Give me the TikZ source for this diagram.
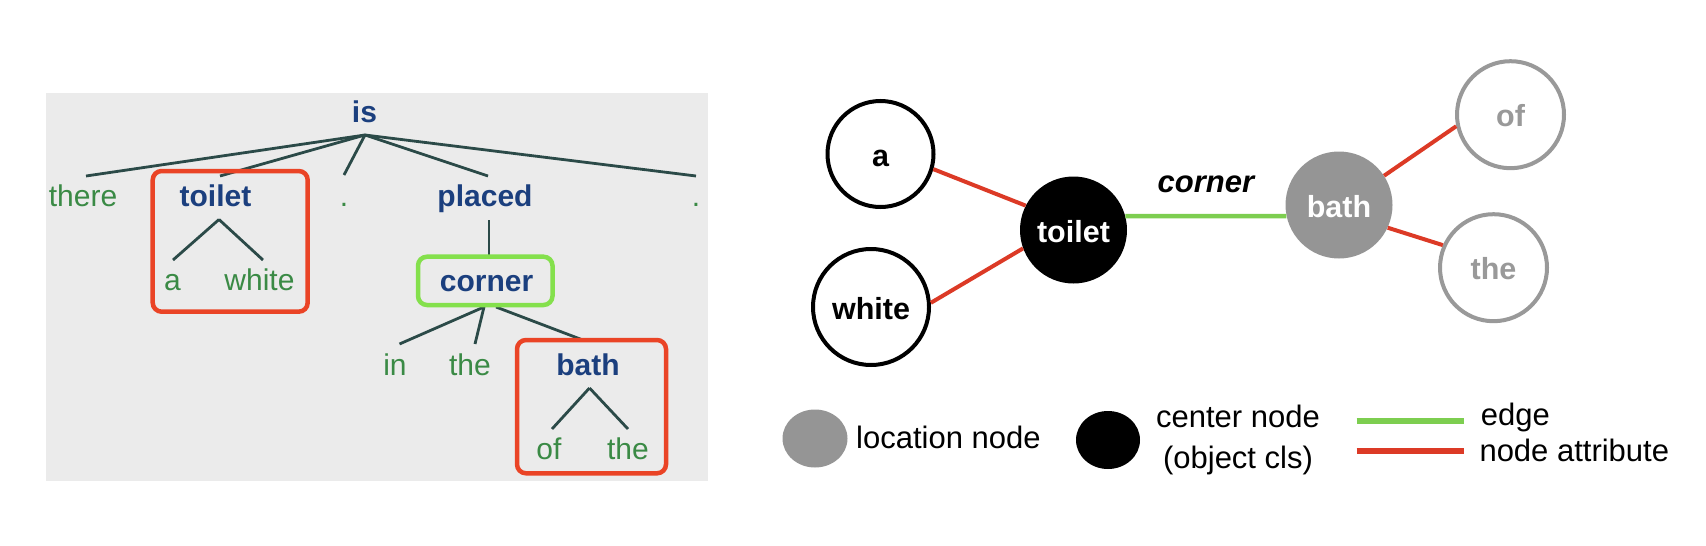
\documentclass[tikz,border=0pt]{standalone}
\usepackage{fontspec}
\setmainfont{Liberation Sans}
\usetikzlibrary{shapes.geometric}
\definecolor{panelbg}{HTML}{EBEBEB}
\definecolor{treeblue}{HTML}{1B3F7E}
\definecolor{treegreen}{HTML}{3A8A45}
\definecolor{tlinec}{HTML}{2B4A48}
\definecolor{boxred}{HTML}{EA4426}
\definecolor{boxgreen}{HTML}{84E04C}
\definecolor{edgered}{HTML}{DC3A26}
\definecolor{edgegreen}{HTML}{7DCE50}
\definecolor{locgray}{HTML}{959595}
\definecolor{attrgray}{HTML}{999999}
\begin{document}
\begin{tikzpicture}[x=1pt,y=-1pt,
  treeword/.style={anchor=base, inner sep=0pt, font=\fontsize{30}{36}\selectfont, text=treegreen},
  treehead/.style={anchor=base, inner sep=0pt, font=\fontsize{30}{36}\selectfont\bfseries, text=treeblue},
  treelink/.style={draw=tlinec, line width=2.8pt},
  redbox/.style={draw=boxred, line width=4.5pt, rounded corners=9pt},
  greenbox/.style={draw=boxgreen, line width=4.5pt, rounded corners=9pt},
  gnode/.style={circle, inner sep=0pt, text height=24pt, text depth=0pt, font=\fontsize{30.5}{36}\selectfont\bfseries},
  wordnode/.style={gnode, draw=black, fill=white, line width=4pt, text=black},
  centernode/.style={gnode, fill=black, text=white, minimum size=107pt},
  locnode/.style={gnode, fill=locgray, text=white, minimum size=107pt},
  attrnode/.style={gnode, draw=attrgray, fill=white, line width=4pt, text=attrgray, minimum size=107pt},
  attrlink/.style={draw=edgered, line width=4pt},
  edgelink/.style={draw=edgegreen, line width=4.5pt},
  legtext/.style={inner sep=0pt, font=\fontsize{31}{36}\selectfont, text=black},
  legline/.style={line width=5.5pt}
]
\useasboundingbox (0,0) rectangle (1706,546);

% ---------- left panel: dependency tree ----------
\fill[panelbg] (46,93) rectangle (708,481);

\node[treehead] (tis) at (364.5,122) {is};
\node[treeword] (tthere) at (83,206.5) {there};
\node[treehead] (ttoilet) at (215.5,206.5) {toilet};
\node[treeword] (tdotA) at (344,206.5) {.};
\node[treehead] (tplaced) at (485,206.5) {placed};
\node[treeword] (tdotB) at (696,206.5) {.};
\node[treeword] (ta) at (172.5,290.5) {a};
\node[treeword] (twhite) at (259.5,290.5) {white};
\node[treehead] (tcorner) at (486.5,291.5) {corner};
\node[treeword] (tin) at (395,375) {in};
\node[treeword] (tthe) at (470,375) {the};
\node[treehead] (tbath) at (588,375) {bath};
\node[treeword] (tof) at (549,459) {of};
\node[treeword] (tthetwo) at (628,459) {the};

\coordinate (cR) at (365,135);
\coordinate (cThere) at (86,176);
\coordinate (cToilet) at (220,176);
\coordinate (cDotA) at (344,175);
\coordinate (cPlaced) at (488,176);
\coordinate (cDotB) at (696,176);
\coordinate (cTA) at (219,219.5);
\coordinate (cA) at (173,260);
\coordinate (cW) at (263,260);
\coordinate (cPlA) at (489,220);
\coordinate (cPlB) at (489,257);
\coordinate (cCA) at (484,307);
\coordinate (cCB) at (496,307);
\coordinate (cIn) at (399.5,344);
\coordinate (cThe) at (475,344);
\coordinate (cBath) at (581.5,339.5);
\coordinate (cBA) at (589.5,388);
\coordinate (cOf) at (552,429);
\coordinate (cTheTwo) at (628,429);

\draw[treelink] (cR) -- (cThere);
\draw[treelink] (cR) -- (cToilet);
\draw[treelink] (cR) -- (cDotA);
\draw[treelink] (cR) -- (cPlaced);
\draw[treelink] (cR) -- (cDotB);
\draw[treelink] (cTA) -- (cA);
\draw[treelink] (cTA) -- (cW);
\draw[treelink] (cPlA) -- (cPlB);
\draw[treelink] (cCA) -- (cIn);
\draw[treelink] (cCA) -- (cThe);
\draw[treelink] (cCB) -- (cBath);
\draw[treelink] (cBA) -- (cOf);
\draw[treelink] (cBA) -- (cTheTwo);

\draw[redbox] (152.7,171) rectangle (307.7,311.7);
\draw[greenbox] (418,256.7) rectangle (552.5,305);
\draw[redbox] (517,340) rectangle (666,473.3);

% ---------- right: scene graph ----------
\node[wordnode, minimum size=106pt] (ga) at (880.5,154) {a};
\node[wordnode, minimum size=116pt] (gwhite) at (871,307) {white};
\node[centernode] (gtoilet) at (1073.5,230) {toilet};
\node[locnode] (gbath) at (1339,205) {bath};
\node[attrnode] (gof) at (1510.5,114.7) {of};
\node[attrnode] (gthe) at (1493.5,267.7) {the};

\draw[attrlink] (ga.-16) -- (gtoilet.153);
\draw[attrlink] (gwhite.4) -- (gtoilet.200);
\draw[edgelink] (gtoilet.15) -- node[pos=0.5, anchor=base, inner sep=0pt, shift={(0,-23.3)}, font=\fontsize{31}{36}\selectfont\bfseries\itshape] (lcorner) {corner} (gbath.192);
\draw[attrlink] (gbath.33) -- (gof.192);
\draw[attrlink] (gbath.-25) -- (gthe.156);

% ---------- legend ----------
\node[ellipse, fill=locgray, minimum width=65pt, minimum height=58pt, inner sep=0pt] (lgray) at (815,438.5) {};
\node[legtext, anchor=base west] (lloc) at (856,448.3) {location node};
\node[ellipse, fill=black, minimum width=64pt, minimum height=58pt, inner sep=0pt] (lblack) at (1108,440) {};
\node[legtext, anchor=base] (lcenter) at (1238,427) {center node};
\node[legtext, anchor=base] (lobj) at (1238,468) {(object cls)};
\coordinate (lgA) at (1356.7,421);
\coordinate (lgB) at (1464,421);
\coordinate (lrA) at (1356.7,451);
\coordinate (lrB) at (1464,451);
\draw[legline, draw=edgegreen] (lgA) -- (lgB);
\draw[legline, draw=edgered] (lrA) -- (lrB);
\node[legtext, anchor=base west] (ledge) at (1480.7,425) {edge};
\node[legtext, anchor=base west] (lattr) at (1479.3,461.7) {node attribute};
\end{tikzpicture}
\end{document}
